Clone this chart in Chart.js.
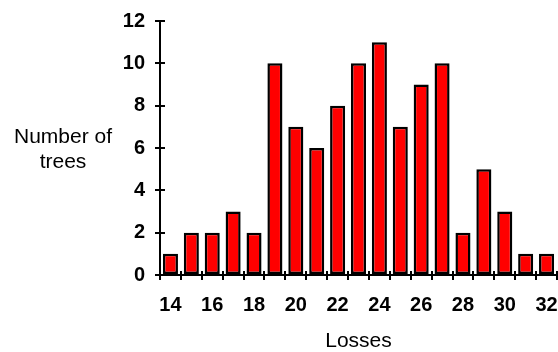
<!DOCTYPE html>
<html>
<head>
<meta charset="utf-8">
<script src="https://cdn.jsdelivr.net/npm/chart.js@4/dist/chart.umd.min.js"></script>
<style>
  html, body { margin: 0; padding: 0; background: #fff; overflow: hidden; }
  #wrap { width: 558px; height: 352px; }
</style>
</head>
<body>
<div id="wrap"><canvas id="bar-chart"></canvas></div>
<script>
var losses = ['14','15','16','17','18','19','20','21','22','23','24','25','26','27','28','29','30','31','32'];
var trees = [1, 2, 2, 3, 2, 10, 7, 6, 8, 10, 11, 7, 9, 10, 2, 5, 3, 1, 1];
var yTitleLines = ['Number of', 'trees'];
var xTitle = 'Losses';

var fontFamily = "Arial, 'Liberation Sans', sans-serif";

// horizontal y title on the left
var yTitlePlugin = {
  id: 'yTitle',
  afterDraw: function(chart) {
    var ctx = chart.ctx;
    ctx.save();
    ctx.font = '21px ' + fontFamily;
    ctx.fillStyle = '#000';
    ctx.textAlign = 'center';
    ctx.textBaseline = 'alphabetic';
    ctx.fillText(yTitleLines[0], 63, 143);
    ctx.fillText(yTitleLines[1], 63, 168);
    ctx.restore();
  }
};

// small tick stubs reaching inside the plot
var innerTicks = {
  id: 'innerTicks',
  afterDraw: function(chart) {
    var ctx = chart.ctx;
    var x = chart.scales.x, y = chart.scales.y;
    ctx.save();
    ctx.strokeStyle = '#000';
    ctx.lineWidth = 2;
    ctx.beginPath();
    for (var i = 0; i <= losses.length; i++) {
      var px = Math.round(x.left + i * (x.right - x.left) / losses.length);
      ctx.moveTo(px, y.bottom);
      ctx.lineTo(px, y.bottom - 4);
    }
    y.ticks.forEach(function(t) {
      var py = Math.round(y.getPixelForValue(t.value));
      ctx.moveTo(x.left, py);
      ctx.lineTo(x.left + 5, py);
    });
    ctx.stroke();
    ctx.restore();
  }
};

var mychart = document.getElementById('bar-chart');
var myBarChart = new Chart(mychart, {
  type: 'bar',
  data: {
    labels: losses,
    datasets: [
      {
        label: 'Number of trees',
        data: trees,
        backgroundColor: '#ff0000',
        borderColor: '#000000',
        borderWidth: 2.5,
        borderSkipped: false,
        barPercentage: 0.72,
        categoryPercentage: 1.0,
      },
    ]
  },
  options: {
    responsive: true,
    maintainAspectRatio: false,
    animation: false,
    layout: { padding: { top: 21, right: 1, left: 0, bottom: 0 } },
    plugins: {
      legend: { display: false },
      tooltip: { enabled: false },
    },
    scales: {
      x: {
        offset: true,
        grid: {
          offset: true,
          drawOnChartArea: false,
          drawTicks: true,
          tickLength: 5,
          color: '#000',
          lineWidth: 2,
        },
        border: { color: '#000', width: 2 },
        ticks: {
          autoSkip: false,
          maxRotation: 0,
          padding: 13,
          color: '#000',
          font: { family: fontFamily, size: 20, weight: 'bold' },
          callback: function(val, index) {
            return index % 2 === 0 ? losses[index] : '';
          }
        },
        title: {
          display: true,
          text: xTitle,
          color: '#000',
          padding: 0,
          font: { family: fontFamily, size: 21, lineHeight: 1 },
        },
        afterFit: function(scale) {
          scale.height = 77;
          scale.paddingLeft = 0;
          scale.paddingRight = 0;
        }
      },
      y: {
        min: 0,
        max: 12,
        grid: {
          drawOnChartArea: false,
          drawTicks: true,
          tickLength: 5,
          color: '#000',
          lineWidth: 2,
        },
        border: { color: '#000', width: 2 },
        ticks: {
          stepSize: 2,
          padding: 10,
          color: '#000',
          font: { family: fontFamily, size: 20, weight: 'bold' },
        },
        afterFit: function(scale) {
          scale.width = 160;
          scale.paddingTop = 0;
          scale.paddingBottom = 0;
        }
      }
    }
  },
  plugins: [yTitlePlugin, innerTicks]
});
</script>
</body>
</html>
